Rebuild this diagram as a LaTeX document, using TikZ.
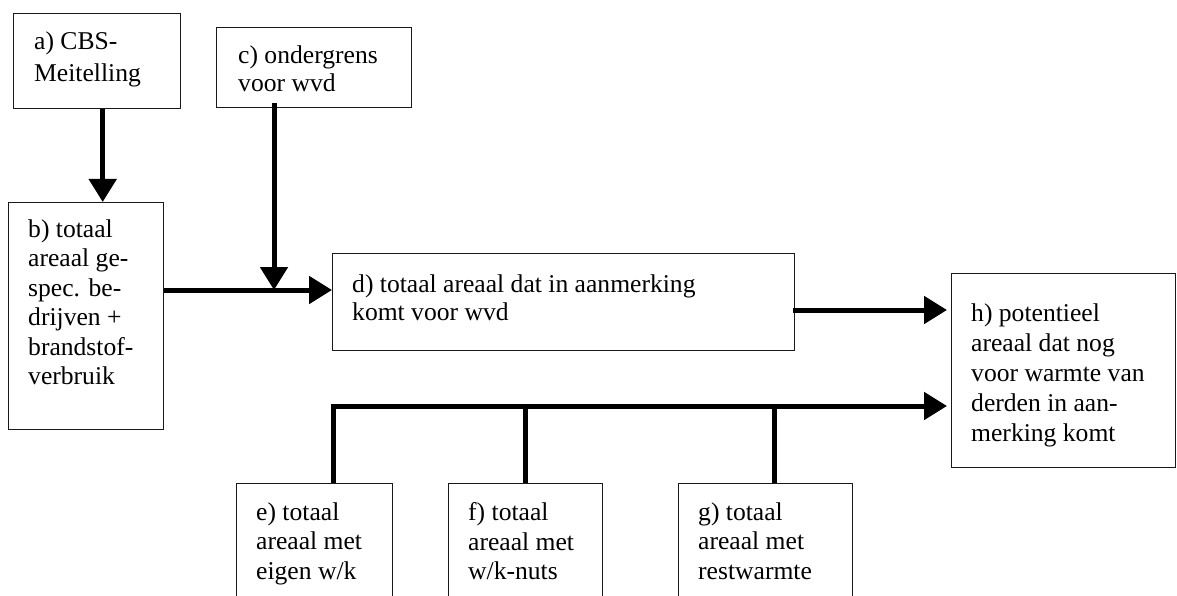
\documentclass[tikz,border=0pt]{standalone}
\usepackage{fontspec}
\setmainfont{Liberation Serif}
\usetikzlibrary{arrows.meta}
\begin{document}
\begin{tikzpicture}[x=1pt,y=-1pt,
  box/.style={draw=black!90, line width=1.4pt, inner sep=0pt, anchor=north west},
  txt/.style={anchor=north west, inner sep=0pt, align=left, font=\fontsize{25.6}{#1}\selectfont},
  txt/.default=29.5,
  flow/.style={line width=5pt},
  arr/.style={flow, -{Triangle[length=23pt,width=27pt]}}]
\useasboundingbox (0,0) rectangle (1177,596);
\clip (0,0) rectangle (1177,596);
\fill[white] (0,0) rectangle (1177,596);
% boxes
\node[box, minimum width=167pt, minimum height=95pt] (a) at (13,13) {};
\node[box, minimum width=195pt, minimum height=80pt] (c) at (216,27) {};
\node[box, minimum width=155pt, minimum height=227pt] (b) at (8,202) {};
\node[box, minimum width=462pt, minimum height=97pt] (d) at (332,253) {};
\node[box, minimum width=224pt, minimum height=194pt] (h) at (951,273) {};
\node[box, minimum width=156pt, minimum height=150pt] (e) at (236,483) {};
\node[box, minimum width=154pt, minimum height=150pt] (f) at (448,483) {};
\node[box, minimum width=174pt, minimum height=150pt] (g) at (678,483) {};
% texts
\node[txt=31.7] (ta) at (34,31.5) {a) CBS-\\Meitelling};
\node[txt=28.5] (tc) at (238,45.5) {c) ondergrens\\voor wvd};
\node[txt] (tb) at (28,219.5) {b) totaal\\areaal ge-\\spec. be-\\drijven +\\brandstof-\\verbruik};
\node[txt=28] (td) at (352,274.5) {d) totaal areaal dat in aanmerking\\komt voor wvd};
\node[txt=30] (th) at (971,304) {h) potentieel\\areaal dat nog\\voor warmte van\\derden in aan-\\merking komt};
\node[txt] (te) at (256,502.5) {e) totaal\\areaal met\\eigen w/k};
\node[txt] (tf) at (468,502.5) {f) totaal\\areaal met\\w/k-nuts};
\node[txt] (tg) at (698,502.5) {g) totaal\\areaal met\\restwarmte};
% helper coordinates
\coordinate (j) at (274,290);
\coordinate (k) at (0,310);
\coordinate (ev) at (333,406);
\coordinate (gv) at (774,406);
% connectors
\draw[arr] ([xshift=5.5pt]a.south) -- ([xshift=5.5pt]a.south |- b.north);
\draw[arr] ([yshift=5pt]c.south -| j) -- (j);
\draw[arr] (b.east |- j) -- (d.west |- j);
\draw[arr] ([xshift=-2pt]d.east |- k) -- ([xshift=-4pt]h.west |- k);
\draw[arr, line join=miter] (ev |- e.north) -- (ev) -- ([xshift=-4pt]h.west |- ev);
\draw[flow] (f.north) -- (f.north |- ev);
\draw[flow] (gv |- g.north) -- (gv);
\end{tikzpicture}
\end{document}
